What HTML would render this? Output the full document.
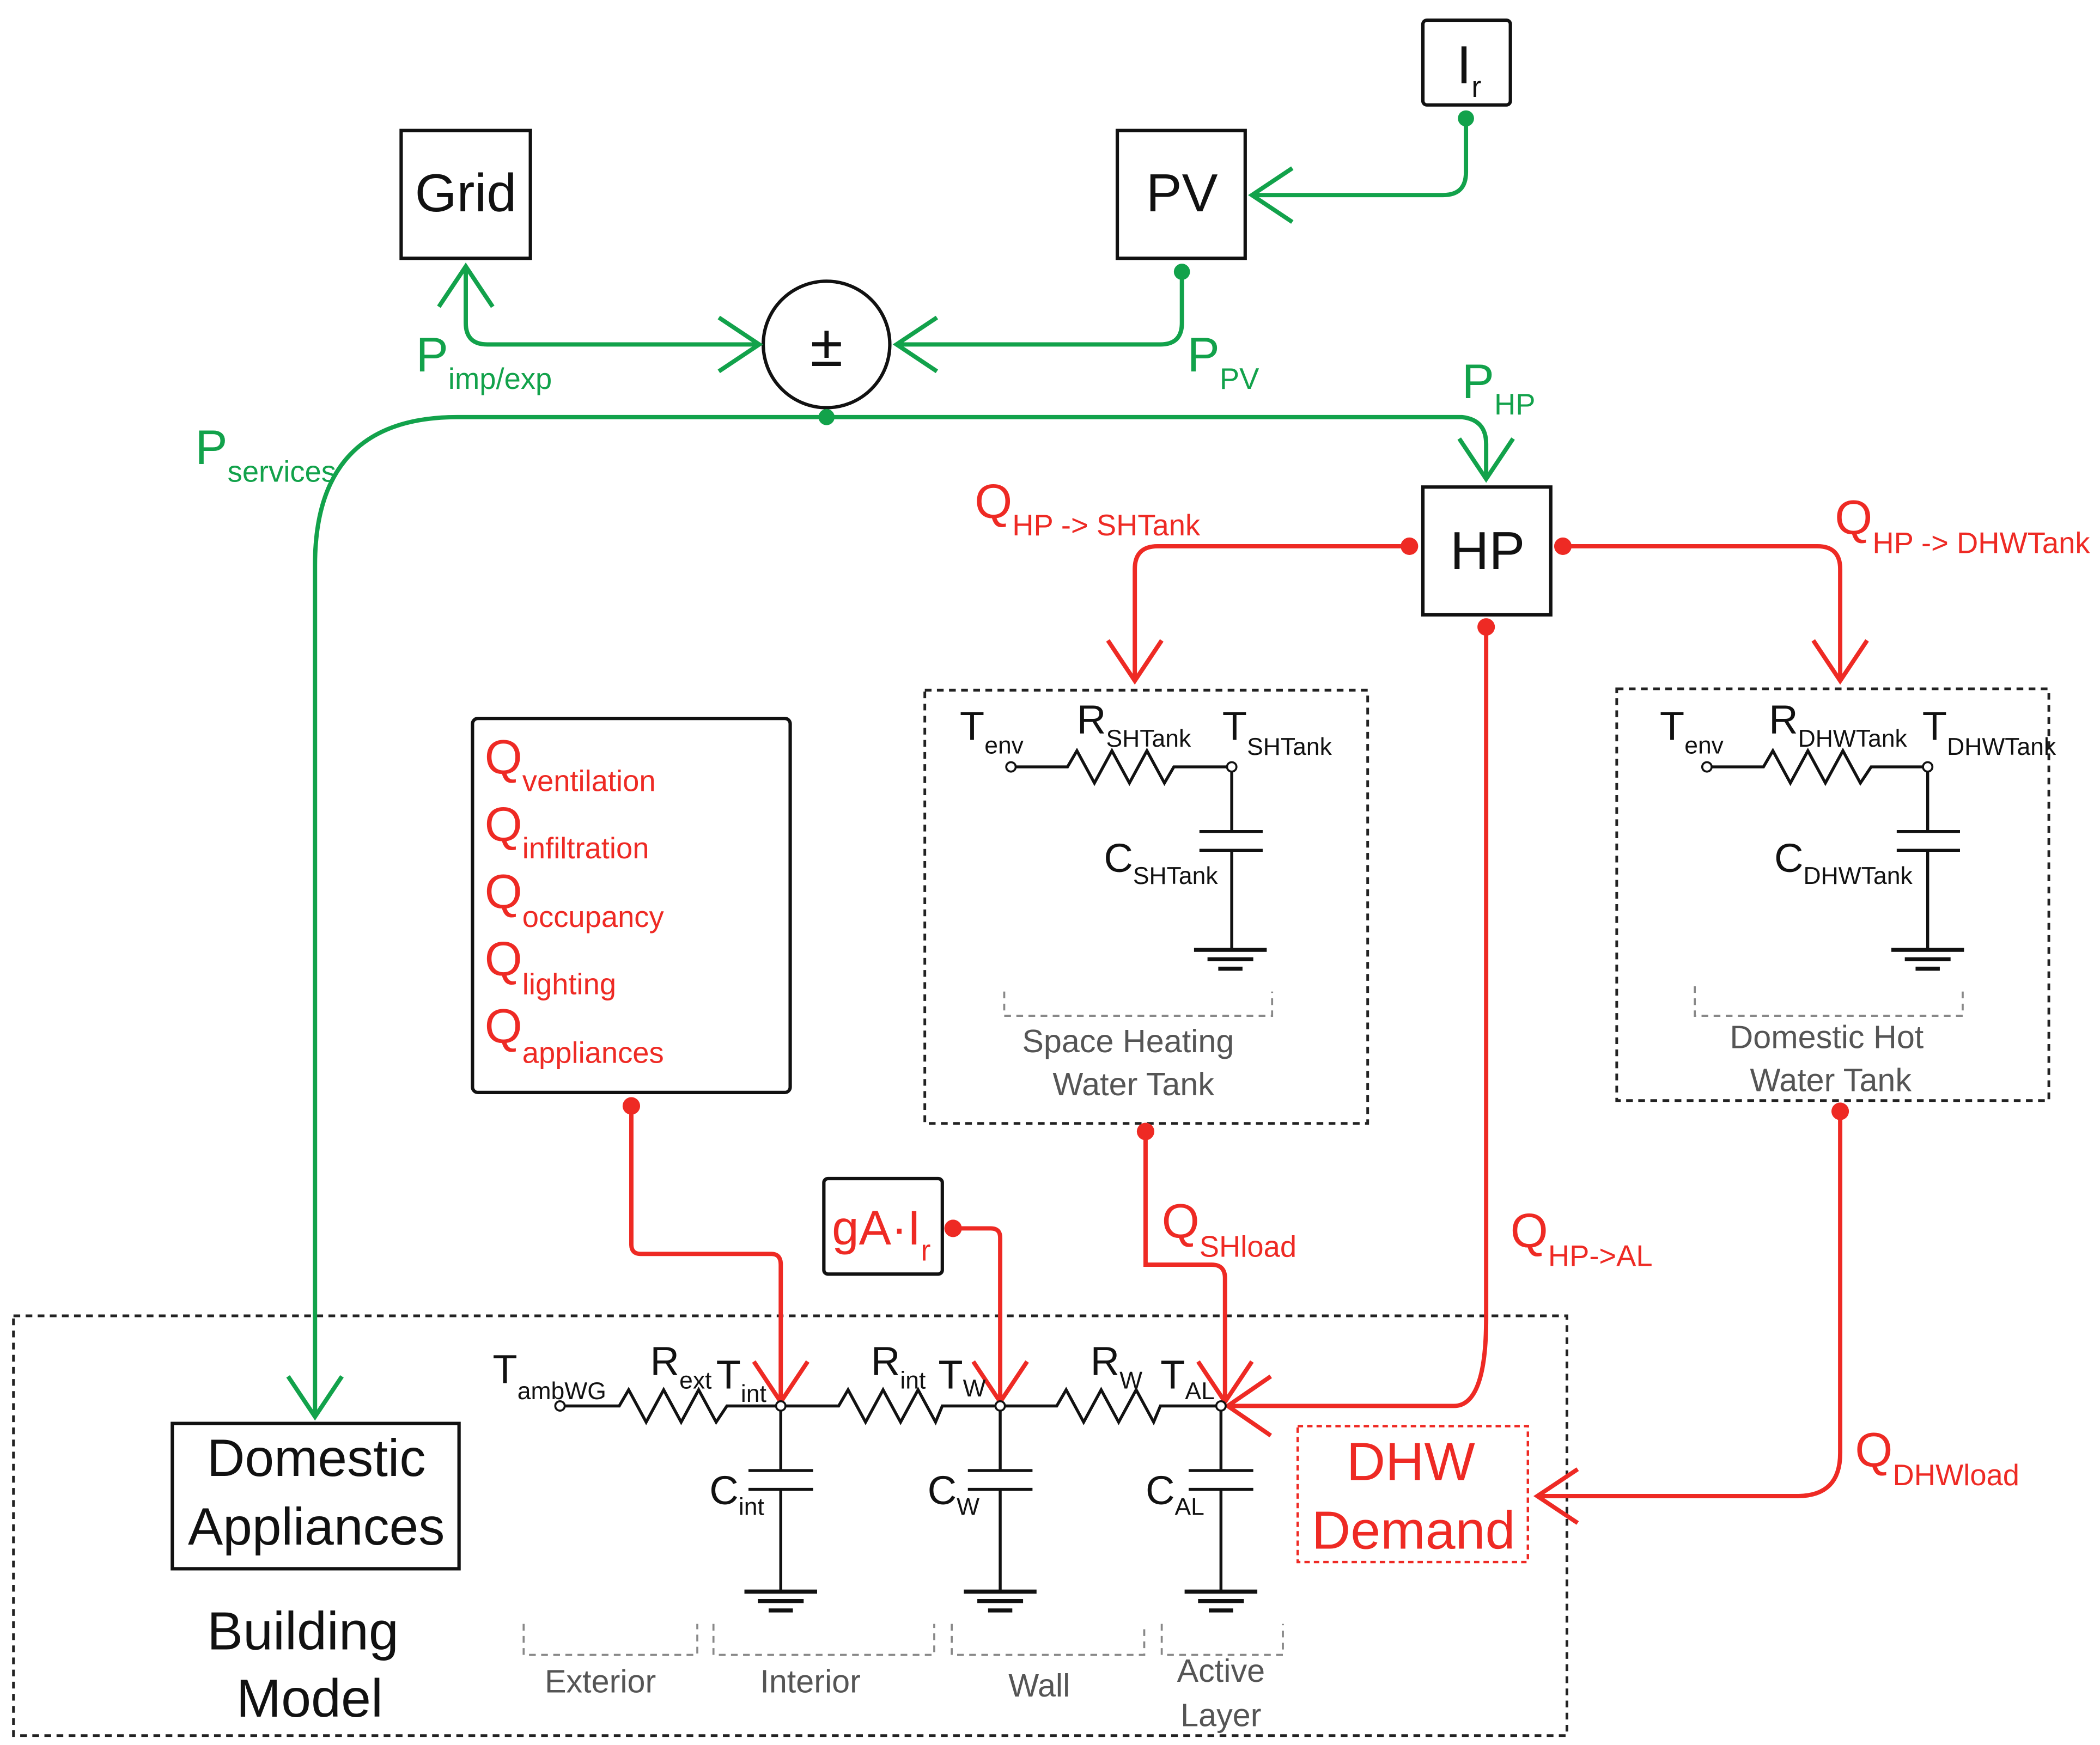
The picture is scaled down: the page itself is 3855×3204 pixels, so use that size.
<!DOCTYPE html>
<html><head><meta charset="utf-8">
<style>
html,body{margin:0;padding:0;background:#fff;}
svg{display:block;}
text{font-family:"Liberation Sans Narrow","Liberation Sans",sans-serif;}
</style></head>
<body>
<svg width="3855" height="3204" viewBox="0 0 1560 1297" preserveAspectRatio="none" xmlns="http://www.w3.org/2000/svg">
<rect width="1560" height="1297" fill="#fff"/>

<!-- boxes -->
<g fill="none" stroke="#111" stroke-width="2.5">
<rect x="1057" y="15" width="65" height="63" rx="3"/>
<rect x="830" y="97" width="95" height="95"/>
<rect x="298" y="97" width="96" height="95"/>
<circle cx="614" cy="256" r="47"/>
<rect x="1057" y="362" width="95" height="95"/>
<rect x="351" y="534" width="236" height="278" rx="4"/>
<rect x="612" y="876" width="88" height="71" rx="3"/>
<rect x="128" y="1058" width="213" height="108"/>
</g>
<g fill="none" stroke="#222" stroke-width="2" stroke-dasharray="5,4">
<rect x="687" y="513" width="329" height="322"/>
<rect x="1201" y="512" width="321" height="306"/>
<rect x="10" y="978" width="1154" height="312"/>
</g>
<rect x="964" y="1060" width="171" height="101" fill="none" stroke="#ee2a24" stroke-width="1.8" stroke-dasharray="4,3"/>
<g fill="none" stroke="#888" stroke-width="1.5" stroke-dasharray="5,4">
<path d="M746,737 V755 H945 V737"/>
<path d="M1259,733 V755 H1458 V733"/>
<path d="M389,1207 V1230 H518 V1207"/>
<path d="M530,1207 V1230 H694 V1207"/>
<path d="M707,1207 V1230 H850 V1207"/>
<path d="M863,1207 V1230 H953 V1207"/>
</g>

<!-- green connectors -->
<g fill="none" stroke="#12a24b" stroke-width="3.2" stroke-linejoin="miter">
<path d="M1089,88 V128 Q1089,145 1072,145 H930"/>
<path d="M960,125 L930,145 L960,165"/>
<path d="M878,202 V240 Q878,256 862,256 H666"/>
<path d="M696,236 L666,256 L696,276"/>
<path d="M346,198 V240 Q346,256 362,256 H564"/>
<path d="M534,236 L564,256 L534,276"/>
<path d="M326,228 L346,198 L366,228"/>
<path d="M1104,356 V330 Q1104,312 1086,310 H340 Q234,310 234,420 V1053"/>
<path d="M1084,326 L1104,356 L1124,326"/>
<path d="M214,1023 L234,1053 L254,1023"/>
</g>
<g fill="#12a24b">
<circle cx="1089" cy="88" r="6"/><circle cx="878" cy="202" r="6"/><circle cx="614" cy="310" r="6"/>
</g>

<!-- red connectors -->
<g fill="none" stroke="#ee2a24" stroke-width="3.2">
<path d="M1047,406 H860 Q843,406 843,423 V506"/>
<path d="M823,476 L843,506 L863,476"/>
<path d="M1161,406 H1350 Q1367,406 1367,423 V506"/>
<path d="M1347,476 L1367,506 L1387,476"/>
<path d="M1104,466 V980 Q1104,1045 1080,1045 H912"/>
<path d="M944,1023 L912,1045 L944,1067"/>
<path d="M851,841 V940 H900 Q910,940 910,950 V1042"/>
<path d="M890,1012 L910,1042 L930,1012"/>
<path d="M469,822 V925 Q469,932 476,932 H573 Q580,932 580,940 V1042"/>
<path d="M560,1012 L580,1042 L600,1012"/>
<path d="M708,913 H736 Q743,913 743,920 V1042"/>
<path d="M723,1012 L743,1042 L763,1012"/>
<path d="M1367,826 V1080 Q1367,1112 1335,1112 H1142"/>
<path d="M1172,1092 L1142,1112 L1172,1132"/>
</g>
<g fill="#ee2a24">
<circle cx="1047" cy="406" r="6.5"/><circle cx="1161" cy="406" r="6.5"/><circle cx="1104" cy="466" r="6.5"/>
<circle cx="851" cy="841" r="6.5"/><circle cx="469" cy="822" r="6.5"/><circle cx="708" cy="913" r="6.5"/><circle cx="1367" cy="826" r="6.5"/>
</g>

<!-- circuits -->
<g fill="none" stroke="#111" stroke-width="2.2">
<!-- SH -->
<path d="M751,570 H793 L800,558 L813,582 L826,558 L839,582 L852,558 L865,582 L872,570 H915"/>
<path d="M915,570 V618 M891,618 H938 M891,632 H938 M915,632 V706"/>
<path d="M887,706 H941 M897,713 H931 M905,720 H923" stroke-width="3"/>
<!-- DHW -->
<path d="M1268,570 H1310 L1317,558 L1330,582 L1343,558 L1356,582 L1369,558 L1382,582 L1390,570 H1432"/>
<path d="M1432,570 V618 M1409,618 H1456 M1409,632 H1456 M1432,632 V706"/>
<path d="M1405,706 H1459 M1415,713 H1449 M1423,720 H1441" stroke-width="3"/>
<!-- building -->
<path d="M416,1045 H460 L467,1033 L480,1057 L493,1033 L506,1057 L519,1033 L532,1057 L540,1045 H623 L630,1033 L643,1057 L656,1033 L669,1057 L682,1033 L695,1057 L700,1045 H785 L792,1033 L805,1057 L818,1033 L831,1057 L844,1033 L857,1057 L862,1045 H907"/>
<path d="M580,1045 V1093 M556,1093 H604 M556,1107 H604 M580,1107 V1183"/>
<path d="M743,1045 V1093 M719,1093 H767 M719,1107 H767 M743,1107 V1183"/>
<path d="M907,1045 V1093 M883,1093 H931 M883,1107 H931 M907,1107 V1183"/>
<path d="M553,1183 H607 M563,1190 H597 M571,1197 H589 M716,1183 H770 M726,1190 H760 M734,1197 H752 M880,1183 H934 M890,1190 H924 M898,1197 H916" stroke-width="3"/>
</g>
<g fill="#fff" stroke="#111" stroke-width="1.5">
<circle cx="751" cy="570" r="3.5"/><circle cx="915" cy="570" r="3.5"/>
<circle cx="1268" cy="570" r="3.5"/><circle cx="1432" cy="570" r="3.5"/>
<circle cx="416" cy="1045" r="3.5"/><circle cx="580" cy="1045" r="3.5"/><circle cx="743" cy="1045" r="3.5"/><circle cx="907" cy="1045" r="3.5"/>
</g>

<!-- black texts -->
<g fill="#111">
<text x="346" y="157" font-size="40" text-anchor="middle">Grid</text>
<text x="878" y="157" font-size="40" text-anchor="middle">PV</text>
<text x="1082" y="62" font-size="40">I<tspan font-size="22" dy="10">r</tspan></text>
<text x="614" y="272" font-size="44" text-anchor="middle">±</text>
<text x="1105" y="423" font-size="40" text-anchor="middle">HP</text>
<text x="235" y="1097" font-size="39" text-anchor="middle">Domestic</text>
<text x="235" y="1148" font-size="39" text-anchor="middle">Appliances</text>
<text x="225" y="1226" font-size="40" text-anchor="middle">Building</text>
<text x="230" y="1276" font-size="40" text-anchor="middle">Model</text>
<g font-size="30">
<text x="713" y="550">T<tspan font-size="18" dy="10">env</tspan></text>
<text x="800" y="545">R<tspan font-size="18" dy="10">SHTank</tspan></text>
<text x="908" y="550">T<tspan font-size="18" dy="11">SHTank</tspan></text>
<text x="820" y="648">C<tspan font-size="18" dy="9">SHTank</tspan></text>
<text x="1233" y="550">T<tspan font-size="18" dy="10">env</tspan></text>
<text x="1314" y="545">R<tspan font-size="18" dy="10">DHWTank</tspan></text>
<text x="1428" y="550">T<tspan font-size="18" dy="11">DHWTank</tspan></text>
<text x="1318" y="648">C<tspan font-size="18" dy="9">DHWTank</tspan></text>
<text x="366" y="1028">T<tspan font-size="18" dy="12">ambWG</tspan></text>
<text x="483" y="1022">R<tspan font-size="18" dy="10">ext</tspan></text>
<text x="532" y="1032">T<tspan font-size="18" dy="10">int</tspan></text>
<text x="647" y="1022">R<tspan font-size="18" dy="10">int</tspan></text>
<text x="697" y="1032">T<tspan font-size="18" dy="6">W</tspan></text>
<text x="810" y="1022">R<tspan font-size="18" dy="10">W</tspan></text>
<text x="862" y="1032">T<tspan font-size="18" dy="8">AL</tspan></text>
<text x="527" y="1118">C<tspan font-size="18" dy="8">int</tspan></text>
<text x="689" y="1118">C<tspan font-size="18" dy="8">W</tspan></text>
<text x="851" y="1118">C<tspan font-size="18" dy="8">AL</tspan></text>
</g>
</g>
<g fill="#555" font-size="24" text-anchor="middle">
<text x="838" y="782">Space Heating</text>
<text x="842" y="814">Water Tank</text>
<text x="1357" y="779">Domestic Hot</text>
<text x="1360" y="811">Water Tank</text>
<text x="446" y="1258">Exterior</text>
<text x="602" y="1258">Interior</text>
<text x="772" y="1261">Wall</text>
<text x="907" y="1250">Active</text>
<text x="907" y="1283">Layer</text>
</g>

<!-- green labels -->
<g fill="#12a24b" font-size="36">
<text x="309" y="276">P<tspan font-size="22" dy="13">imp/exp</tspan></text>
<text x="882" y="276">P<tspan font-size="22" dy="13">PV</tspan></text>
<text x="1086" y="296">P<tspan font-size="22" dy="12">HP</tspan></text>
<text x="145" y="345">P<tspan font-size="22" dy="13">services</tspan></text>
</g>
<!-- red labels -->
<g fill="#ee2a24" font-size="36">
<text x="724" y="385">Q<tspan font-size="22" dy="13">HP -&gt; SHTank</tspan></text>
<text x="1363" y="397">Q<tspan font-size="22" dy="14">HP -&gt; DHWTank</tspan></text>
<text x="863" y="920">Q<tspan font-size="22" dy="14">SHload</tspan></text>
<text x="1122" y="927">Q<tspan font-size="22" dy="14">HP-&gt;AL</tspan></text>
<text x="1378" y="1090">Q<tspan font-size="22" dy="14">DHWload</tspan></text>
<text x="360" y="575">Q<tspan font-size="22" dy="13">ventilation</tspan></text>
<text x="360" y="625">Q<tspan font-size="22" dy="13">infiltration</tspan></text>
<text x="360" y="675">Q<tspan font-size="22" dy="14">occupancy</tspan></text>
<text x="360" y="725">Q<tspan font-size="22" dy="14">lighting</tspan></text>
<text x="360" y="775">Q<tspan font-size="22" dy="15">appliances</tspan></text>
<text x="618" y="925">gA·I<tspan font-size="22" dy="12">r</tspan></text>
<text x="1048" y="1100" font-size="40" text-anchor="middle">DHW</text>
<text x="1050" y="1151" font-size="40" text-anchor="middle">Demand</text>
</g>
</svg>
</body></html>
